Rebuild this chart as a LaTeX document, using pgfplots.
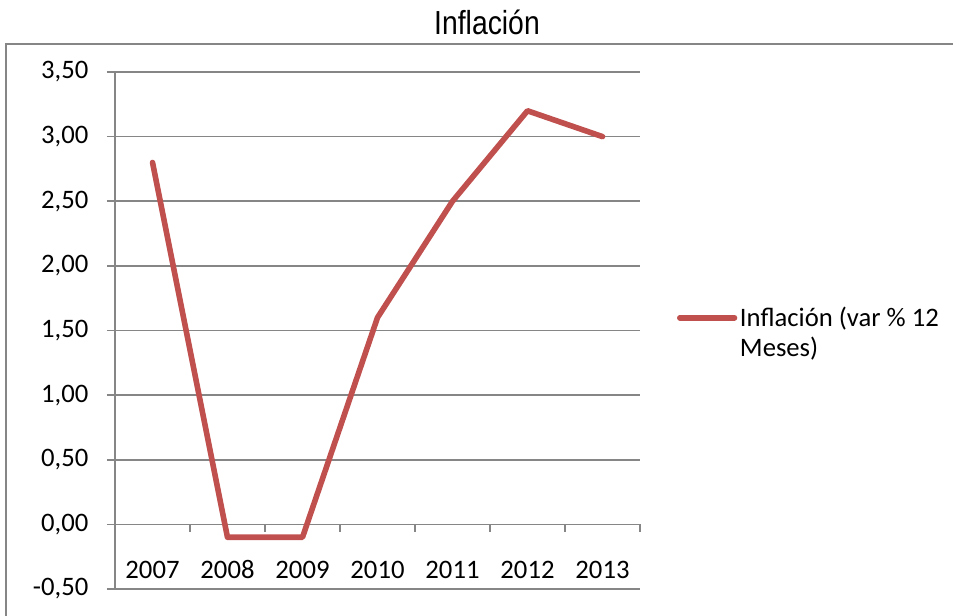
\documentclass[border=0pt]{standalone}
\usepackage{pgfplots}
\pgfplotsset{compat=1.18}
\usepackage{fontspec}
\setmainfont{Carlito}
\newfontfamily\titlefont[FakeStretch=0.85]{Liberation Sans}
\definecolor{exred}{HTML}{C0504D}
\definecolor{exgray}{HTML}{868686}
\begin{document}
\begin{tikzpicture}
\path[use as bounding box] (0pt,0pt) rectangle (714.75pt,462pt);
\draw[exgray, line width=1.5pt] (4.5pt,0pt) -- (4.5pt,429pt) -- (714.75pt,429pt);
\node[font=\titlefont\fontsize{25}{30}\selectfont, anchor=center] at (365.25pt,445.5pt) {Inflación};
\begin{axis}[
  at={(86.25pt,20.25pt)}, anchor=south west,
  scale only axis, width=393.75pt, height=387.75pt,
  xmin=-0.5, xmax=6.5, ymin=-0.5, ymax=3.5,
  xtick={0,1,2,3,4,5,6},
  xticklabels={2007,2008,2009,2010,2011,2012,2013},
  ytick={-0.5,0,0.5,1,1.5,2,2.5,3,3.5},
  axis x line=bottom, axis y line=left,
  axis line style={-},
  x axis line style={draw=none},
  y axis line style={exgray, line width=1.2pt},
  major x tick style={draw=none},
  major y tick style={exgray, line width=1.2pt},
  tick align=outside, major tick length=6pt,
  ymajorgrids, major grid style={exgray, line width=1.2pt},
  font=\fontsize{20}{24}\selectfont,
  xticklabel style={anchor=base, yshift=14pt},
  yticklabel style={anchor=east, xshift=-10.5pt, /pgf/number format/.cd, fixed, fixed zerofill, precision=2, use comma, assume math mode=true},
  clip=false,
  legend style={at={(1.07,0.495)}, anchor=west, draw=none, fill=none, inner sep=0pt,
    font=\fontsize{20}{22.5}\selectfont, cells={anchor=west, align=left}},
  legend image code/.code={\path[draw=none] (0pt,-11.5pt) -- (41pt,-11.5pt); \draw[#1, line cap=round] (0pt,11.5pt) -- (41pt,11.5pt);},
]
\draw[exgray, line width=1.2pt] (axis cs:-0.5,0) -- (axis cs:6.5,0);
\draw[exgray, line width=1.2pt] (axis cs:0.5,0) -- ++(0pt,-6pt);
\draw[exgray, line width=1.2pt] (axis cs:1.5,0) -- ++(0pt,-6pt);
\draw[exgray, line width=1.2pt] (axis cs:2.5,0) -- ++(0pt,-6pt);
\draw[exgray, line width=1.2pt] (axis cs:3.5,0) -- ++(0pt,-6pt);
\draw[exgray, line width=1.2pt] (axis cs:4.5,0) -- ++(0pt,-6pt);
\draw[exgray, line width=1.2pt] (axis cs:5.5,0) -- ++(0pt,-6pt);
\draw[exgray, line width=1.2pt] (axis cs:6.5,0) -- ++(0pt,-6pt);
\addplot[exred, line width=4.2pt, line cap=round, line join=round] coordinates {
  (0,2.8) (1,-0.1) (2,-0.1) (3,1.6) (4,2.5) (5,3.2) (6,3.0)
};
\addlegendentry{Inflación (var \% 12\\Meses)}
\end{axis}
\end{tikzpicture}
\end{document}
